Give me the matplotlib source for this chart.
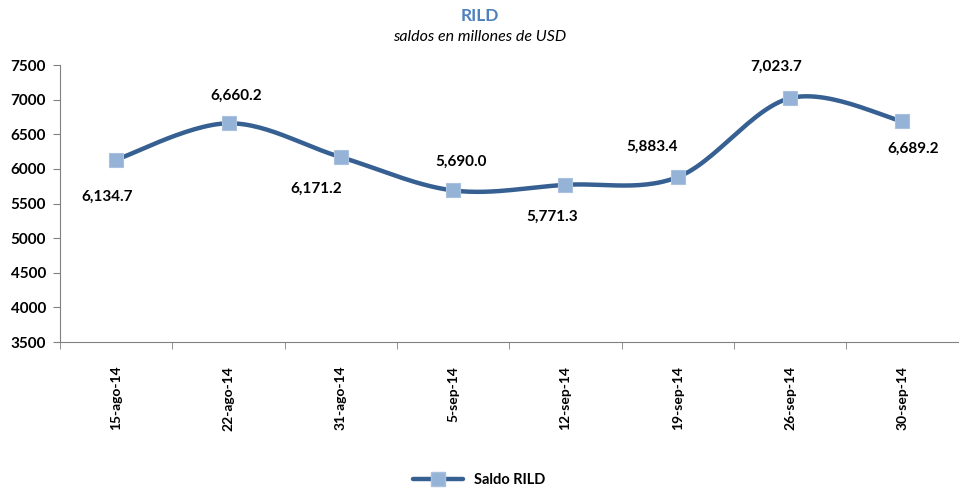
import matplotlib
matplotlib.use('agg')
import matplotlib.pyplot as plt
import numpy as np

# Data
fechas = ['15-ago-14', '22-ago-14', '31-ago-14', '5-sep-14',
          '12-sep-14', '19-sep-14', '26-sep-14', '30-sep-14']
saldo = [6134.7, 6660.2, 6171.2, 5690.0, 5771.3, 5883.4, 7023.7, 6689.2]
etiquetas = ['6,134.7', '6,660.2', '6,171.2', '5,690.0',
             '5,771.3', '5,883.4', '7,023.7', '6,689.2']
# label offsets in pixels (dx, dy)
desplaz = [(-9, -37), (8, 27), (-25, -32), (8, 29),
           (-13, -32), (-26, 30), (-14, 31), (11, -28)]

plt.rcParams['font.family'] = ['Lato', 'DejaVu Sans']

linea = '#376092'
marca = '#95B3D7'

fig = plt.figure(figsize=(9.59, 4.90), dpi=100)
ax = fig.add_axes([0.0626, 0.302, 0.937, 0.565])

x = np.arange(len(saldo))
y = np.array(saldo)

# smooth curve like Excel (Catmull-Rom style Bezier between points)
def suavizar(px, py, n=30):
    xs, ys = [], []
    m = len(px)
    for i in range(m - 1):
        p0 = np.array([px[max(i - 1, 0)], py[max(i - 1, 0)]])
        p1 = np.array([px[i], py[i]])
        p2 = np.array([px[i + 1], py[i + 1]])
        p3 = np.array([px[min(i + 2, m - 1)], py[min(i + 2, m - 1)]])
        c1 = p1 + (p2 - p0) / 6
        c2 = p2 - (p3 - p1) / 6
        t = np.linspace(0, 1, n)[:, None]
        b = (1 - t) ** 3 * p1 + 3 * (1 - t) ** 2 * t * c1 + 3 * (1 - t) * t ** 2 * c2 + t ** 3 * p2
        xs.extend(b[:, 0])
        ys.extend(b[:, 1])
    return xs, ys

sx, sy = suavizar(x, y)
ax.plot(sx, sy, color=linea, lw=3.2, solid_capstyle='round', zorder=2)
ax.plot(x, y, 's', color=marca, markersize=10, markeredgecolor='#A9C1DF',
        markeredgewidth=0.8, zorder=3)

for xi, yi, lab, d in zip(x, y, etiquetas, desplaz):
    ax.annotate(lab, (xi, yi), xytext=d, textcoords='offset pixels',
                ha='center', va='center', fontsize=11, fontweight='bold')

ax.set_xlim(-0.5, len(saldo) - 0.5)
ax.set_ylim(3500, 7500)
ax.set_yticks(range(3500, 7501, 500))
ax.set_xticks(x)
ax.set_xticklabels(fechas, rotation=90, fontsize=10, fontweight='bold')
ax.set_xticks(np.arange(-0.5, len(saldo)), minor=True)
ax.tick_params(axis='x', which='major', length=0, pad=17)
ax.tick_params(axis='x', which='minor', length=5, color='#808080')
ax.tick_params(axis='y', length=5, color='#808080', labelsize=11, pad=5)
for t in ax.get_yticklabels():
    t.set_fontweight('bold')

for s in ['top', 'right']:
    ax.spines[s].set_visible(False)
ax.spines['left'].set_color('#808080')
ax.spines['bottom'].set_color('#808080')

fig.text(0.5, 0.968, 'RILD', ha='center', va='center', fontsize=12.5,
         fontweight='bold', color='#4F81BD')
fig.text(0.5, 0.925, 'saldos en millones de USD', ha='center', va='center',
         fontsize=11.5, style='italic')

h, = ax.plot([], [], color=linea, lw=3.2, marker='s', markersize=10,
             markerfacecolor=marca, markeredgecolor='#A9C1DF', solid_capstyle='round')
fig.legend([h], ['Saldo RILD'], loc='center', bbox_to_anchor=(0.5, 0.02),
           frameon=False, prop={'weight': 'bold', 'size': 10.5}, handlelength=3.4)

fig.savefig('out.png', dpi=100)
